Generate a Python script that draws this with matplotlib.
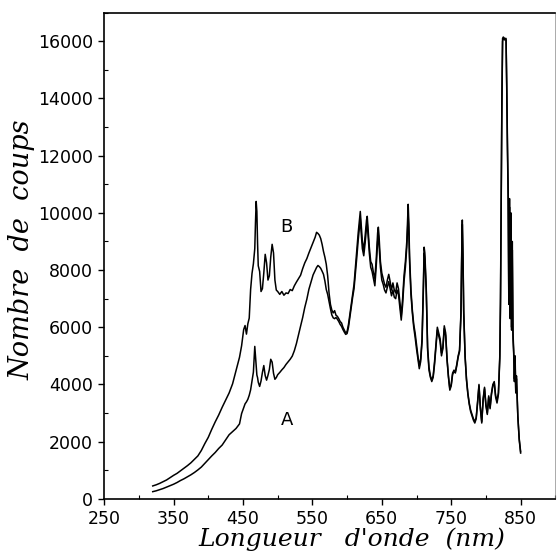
import matplotlib.pyplot as plt
from matplotlib.ticker import MultipleLocator

# emission spectra, counts vs wavelength (nm)
wavelength = [
    320, 325, 330, 335, 340, 345, 350, 355, 360, 365,
    370, 375, 380, 385, 390, 395, 400, 405, 410, 415,
    420, 425, 430, 435, 440, 445, 448, 451, 453, 455,
    457, 459, 461, 463, 465, 467, 468, 469, 470, 471,
    472, 474, 476, 478, 480, 482, 484, 486, 488, 490,
    492, 494, 496, 498, 500, 503, 506, 509, 512, 515,
    518, 521, 524, 527, 530, 533, 536, 539, 542, 545,
    548, 551, 554, 556, 558, 560, 562, 564, 566, 568,
    570, 572, 574, 576, 578, 580, 582, 584, 586, 588,
    590, 592, 594, 596, 598, 600, 602, 604, 606, 608,
    610, 612, 614, 616, 618, 619, 620, 622, 624, 626,
    628, 629, 630, 632, 634, 636, 638, 640, 642, 644,
    645, 646, 648, 650, 652, 654, 656, 658, 660, 662,
    664, 666, 668, 670, 672, 674, 676, 678, 680, 682,
    684, 686, 688, 689, 690, 692, 694, 696, 698, 700,
    702, 704, 706, 708, 710, 711, 712, 714, 716, 718,
    720, 722, 724, 726, 728, 730, 732, 734, 736, 738,
    740, 742, 744, 746, 748, 750, 752, 754, 756, 758,
    760, 762, 764, 765, 766, 767, 768, 770, 772, 774,
    776, 778, 780, 782, 784, 786, 788, 790, 792, 794,
    796, 798, 800, 802, 804, 806, 808, 810, 812, 814,
    816, 818, 820, 821, 822, 823, 824, 825, 827, 829,
    830, 831, 832, 833, 834, 835, 836, 837, 838, 839,
    840, 841, 842, 843, 844, 846, 848, 850,
]

counts_b = [
    450, 490, 540, 600, 660, 740, 820, 890, 980, 1070,
    1160, 1260, 1380, 1500, 1690, 1930, 2150, 2430, 2690, 2930,
    3200, 3450, 3700, 4020, 4480, 4950, 5350, 5920, 6060, 5760,
    6120, 6320, 7320, 7880, 8220, 8750, 9650, 10400, 10050, 8950,
    8150, 7950, 7250, 7350, 7900, 8550, 8250, 7650, 7800, 8450,
    8900, 8600, 7650, 7300, 7250, 7150, 7250, 7120, 7200, 7180,
    7320, 7280, 7450, 7580, 7700, 7820, 8050, 8250, 8400, 8600,
    8780, 8950, 9150, 9320, 9280, 9220, 9100, 8900, 8650, 8450,
    8200, 7800, 7200, 6800, 6600, 6500, 6580, 6420, 6380, 6300,
    6200, 6150, 6000, 5900, 5800, 5850, 6100, 6450, 6800, 7150,
    7500, 8100, 8700, 9300, 9800, 10050, 9700, 9000, 8700, 9200,
    9750, 9880, 9500, 8800, 8300, 8200, 7900, 7700, 8400, 9300,
    9500, 9200, 8300, 7900, 7700, 7500, 7400, 7650, 7850, 7600,
    7300, 7550, 7300, 7200, 7550, 7350, 6900, 6400, 7000, 7800,
    8300, 9000, 10300, 9600, 8500, 7300, 6600, 6100, 5800, 5400,
    5000, 4650, 4900, 5600, 7600, 8800, 8600, 7400, 5300, 4600,
    4300, 4150, 4300, 4800, 5400, 6000, 5800, 5600, 5100, 5300,
    6050, 5800, 4900, 4300, 3850, 4000, 4400, 4500, 4450, 4700,
    5000, 5200, 6500, 8400, 9750, 8500, 6600, 5000, 4200, 3700,
    3350, 3100, 2950, 2800, 2700, 2850, 3400, 4000, 3200, 2700,
    3500, 3900, 3300, 3000, 3600, 3200, 3700, 4000, 4100, 3600,
    3450, 3700, 5000, 7000, 10500, 14000, 16100, 16150, 16100, 16100,
    14500, 12500, 10900, 7000, 10500, 6500, 10000, 6000, 9000, 5800,
    5200, 4200, 5000, 3800, 4300, 2900, 2100, 1650,
]

counts_a = [
    250, 280, 320, 360, 410, 460, 510, 570, 640, 700,
    770, 840, 920, 1010, 1110, 1240, 1370, 1500, 1620, 1760,
    1880, 2060, 2240, 2350, 2460, 2620, 2980, 3180, 3320, 3390,
    3480, 3620, 3810, 4120, 4430, 5330, 4980, 4620, 4330, 4240,
    4080, 3930, 4120, 4420, 4660, 4310, 4150, 4320, 4520, 4880,
    4780, 4390, 4180, 4240, 4340, 4420, 4510, 4590, 4700, 4790,
    4880, 4990, 5180, 5430, 5740, 6040, 6340, 6690, 6980, 7330,
    7580, 7830, 7990, 8090, 8160, 8120, 8060, 7960, 7850, 7620,
    7320, 7150, 6900, 6650, 6430, 6330, 6300, 6340, 6280, 6200,
    6100, 6030, 5920, 5830, 5750, 5780, 6000, 6350, 6700, 7050,
    7350, 7900, 8450, 9050, 9550, 9800, 9400, 8750, 8500, 8950,
    9500, 9650, 9300, 8600, 8100, 7950, 7700, 7450, 8150, 9000,
    9200, 8900, 8100, 7650, 7500, 7300, 7200, 7400, 7600, 7350,
    7100, 7300, 7050, 7000, 7300, 7150, 6700, 6250, 6800, 7600,
    8100, 8800, 9900, 9300, 8300, 7150, 6500, 6000, 5650, 5250,
    4900, 4550, 4800, 5500, 7400, 8600, 8400, 7300, 5200, 4500,
    4250, 4100, 4250, 4700, 5300, 5900, 5700, 5500, 5000, 5250,
    5950, 5700, 4850, 4250, 3800, 3950, 4350, 4450, 4400, 4650,
    4950, 5150, 6400, 8200, 9600, 8300, 6500, 4950, 4150, 3650,
    3300, 3050, 2900, 2750, 2650, 2800, 3350, 3950, 3150, 2650,
    3450, 3850, 3250, 2950, 3550, 3150, 3650, 3950, 4050, 3550,
    3350, 3650, 4900, 6800, 10200, 13700, 16000, 16100, 16050, 16050,
    14300, 12200, 10600, 6800, 10200, 6300, 9700, 5900, 8700, 5600,
    5100, 4100, 4800, 3700, 4200, 2850, 2050, 1600,
]

fig = plt.figure(figsize=(5.57, 5.53), dpi=100)
ax = fig.add_axes([0.187, 0.098, 0.81, 0.879])

ax.plot(wavelength, counts_b, color='black', lw=1.1)
ax.plot(wavelength, counts_a, color='black', lw=1.1)

ax.text(513, 9500, 'B', fontsize=13, ha='center', va='center')
ax.text(513, 2750, 'A', fontsize=13, ha='center', va='center')

ax.set_xlim(250, 900)
ax.set_ylim(0, 17000)
ax.xaxis.set_minor_locator(MultipleLocator(50))
ax.set_xticks(range(250, 851, 100))
ax.yaxis.set_minor_locator(MultipleLocator(1000))
ax.set_yticks(range(0, 16001, 2000))
ax.tick_params(which='major', direction='out', length=4, width=1, labelsize=12.5, pad=4)
ax.tick_params(which='minor', direction='in', length=3, width=0.8)
for sp in ax.spines.values():
    sp.set_linewidth(1.2)
ax.spines['right'].set_linewidth(0.5)
ax.spines['right'].set_color('#888888')

fig.text(0.632, 0.024, "Longueur   d'onde  (nm)", fontsize=18, style='italic',
         family='DejaVu Serif', ha='center', va='center')
fig.text(0.04, 0.548, 'Nombre  de  coups', fontsize=19.5, style='italic',
         family='DejaVu Serif', ha='center', va='center', rotation=90)

fig.savefig('out.png', dpi=100)
